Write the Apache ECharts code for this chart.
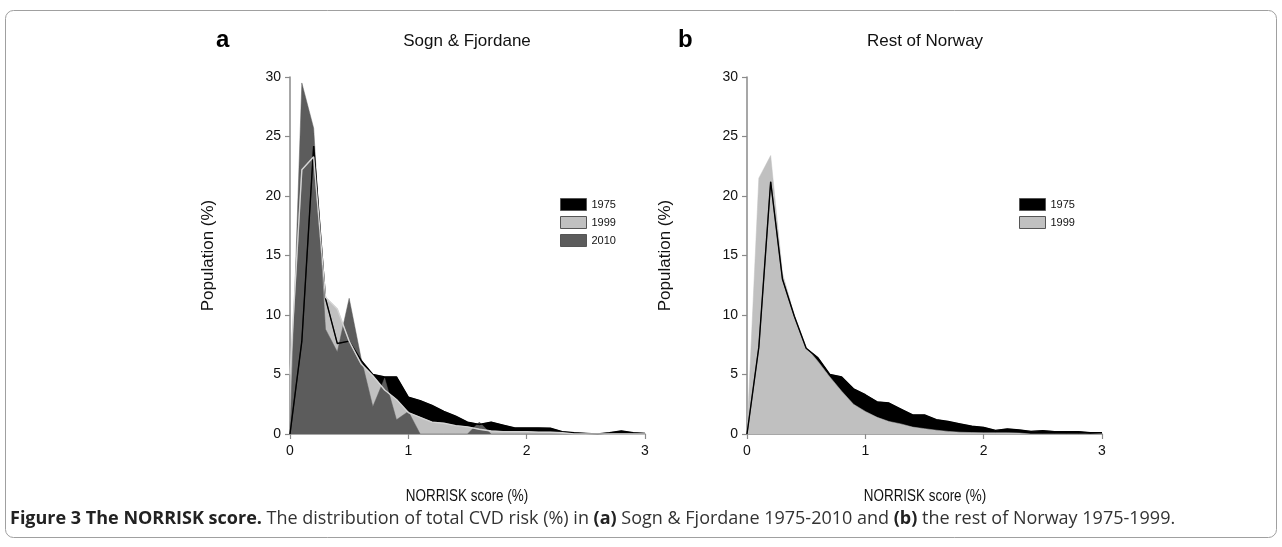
<!DOCTYPE html>
<html>
<head>
<meta charset="utf-8">
<script src="https://cdn.jsdelivr.net/npm/echarts@6/dist/echarts.min.js"></script>
<style>
  html, body { margin: 0; padding: 0; background: #fff; }
  #chart { width: 1282px; height: 547px; }
</style>
</head>
<body>
<div id="chart"></div>
<script>
// NORRISK score bins (%)
const scoreBins = [0, 0.1, 0.2, 0.3, 0.4, 0.5, 0.6, 0.7, 0.8, 0.9, 1.0,
  1.1, 1.2, 1.3, 1.4, 1.5, 1.6, 1.7, 1.8, 1.9, 2.0,
  2.1, 2.2, 2.3, 2.4, 2.5, 2.6, 2.7, 2.8, 2.9, 3.0]

// panel a - Sogn & Fjordane, population (%)
const sogn1975 = [0, 7.8, 24.2, 11.4, 7.6, 7.8, 6.2, 5.0, 4.8, 4.8, 3.1,
  2.8, 2.4, 1.9, 1.5, 1.0, 0.8, 1.0, 0.75, 0.5, 0.5,
  0.5, 0.48, 0.2, 0.1, 0.05, 0, 0.1, 0.25, 0.1, 0.05]
const sogn1999 = [5, 22.2, 23.3, 11.5, 10.5, 7.8, 5.9, 4.9, 3.7, 2.9, 1.8,
  1.4, 1.0, 0.9, 0.7, 0.6, 0.4, 0.25, 0.2, 0.2, 0.2,
  0.15, 0.15, 0.1, 0, 0, 0, 0, 0, 0, 0]
const sogn2010 = [0, 29.5, 25.7, 8.8, 6.9, 11.4, 6.4, 2.3, 4.7, 1.2, 1.9,
  0, 0, 0, 0, 0, 1.0, 0, 0, 0, 0,
  0, 0, 0, 0, 0, 0, 0, 0, 0, 0]

// panel b - rest of Norway, population (%)
const norway1975 = [0, 7.3, 21.2, 13.0, 9.9, 7.2, 6.4, 5.0, 4.8, 3.8, 3.3,
  2.7, 2.6, 2.1, 1.6, 1.6, 1.2, 1.05, 0.85, 0.65, 0.56,
  0.3, 0.42, 0.34, 0.22, 0.28, 0.2, 0.2, 0.2, 0.1, 0.1]
const norway1999 = [0, 21.5, 23.4, 13.5, 10.0, 7.3, 6.1, 4.8, 3.6, 2.5, 1.9,
  1.4, 1.05, 0.85, 0.58, 0.45, 0.32, 0.22, 0.15, 0.12, 0.1,
  0.1, 0.1, 0.08, 0, 0, 0, 0, 0, 0, 0]

const xTicks = [0, 1, 2, 3]

const colors = { '1975': '#000000', '1999': '#c0c0c0', '2010': '#5c5c5c' }
const lineColors = { '1975': '#000000', '1999': '#d4d4d4' }

const tickFont = 'Liberation Sans, Arial, sans-serif'

function pairs(vals) {
  return scoreBins.map((x, i) => [x, vals[i]])
}

function areaSeries(name, vals, idx) {
  return {
    name: name,
    type: 'line',
    xAxisIndex: idx,
    yAxisIndex: idx,
    data: pairs(vals),
    showSymbol: false,
    symbol: 'none',
    z: 2,
    itemStyle: { color: colors[name] },
    lineStyle: { color: colors[name], width: 0.5 },
    areaStyle: { color: colors[name], opacity: 1 },
    emphasis: { disabled: true },
  }
}

function lineSeries(name, vals, idx) {
  return {
    name: name + ' line',
    type: 'line',
    xAxisIndex: idx,
    yAxisIndex: idx,
    data: pairs(vals),
    showSymbol: false,
    symbol: 'none',
    z: 3,
    lineStyle: { color: lineColors[name], width: 1.4 },
    emphasis: { disabled: true },
  }
}

function xAxis(idx) {
  return {
    type: 'value',
    gridIndex: idx,
    min: 0,
    max: 3,
    interval: 1,
    axisLine: { show: true, onZero: false, lineStyle: { color: '#8a8a8a', width: 1.5 } },
    axisTick: { show: true, length: 5, lineStyle: { color: '#8a8a8a', width: 1.2 } },
    axisLabel: {
      margin: 10, fontFamily: tickFont, fontSize: 14, color: '#111',
      customValues: xTicks,
    },
    splitLine: { show: false },
  }
}

function yAxis(idx) {
  return {
    type: 'value',
    gridIndex: idx,
    min: 0,
    max: 30,
    interval: 5,
    name: 'Population (%)',
    nameLocation: 'middle',
    nameGap: 73,
    nameTextStyle: { fontFamily: tickFont, fontSize: 17, color: '#111' },
    axisLine: { show: true, lineStyle: { color: '#8a8a8a', width: 1.5 } },
    axisTick: { show: true, length: 5, lineStyle: { color: '#8a8a8a', width: 1.2 } },
    axisLabel: { margin: 9, fontFamily: tickFont, fontSize: 14, color: '#111' },
    splitLine: { show: false },
  }
}

// x axis title, drawn a bit narrow like the original figure
function xTitle(cx) {
  return {
    type: 'text', x: cx, y: 497, scaleX: 0.84, originX: 0, originY: 0,
    style: { text: 'NORRISK score (%)', font: '16px ' + tickFont, fill: '#111', align: 'center', verticalAlign: 'middle' },
  }
}

const chart = echarts.init(document.getElementById('chart'))

const option = {
  backgroundColor: '#ffffff',
  animation: false,
  grid: [
    { left: 290, top: 77, width: 355, height: 357 },
    { left: 747, top: 77, width: 355, height: 357 },
  ],
  xAxis: [xAxis(0), xAxis(1)],
  yAxis: [yAxis(0), yAxis(1)],
  legend: [
    {
      data: ['1975', '1999', '2010'],
      orient: 'vertical',
      left: 555, top: 193,
      itemWidth: 26, itemHeight: 12, itemGap: 5,
      icon: 'rect',
      itemStyle: { borderColor: '#555', borderWidth: 1 },
      textStyle: { fontFamily: tickFont, fontSize: 11, color: '#111' },
      selectedMode: false,
    },
    {
      data: ['1975 ', '1999 '],
      orient: 'vertical',
      left: 1014, top: 193,
      itemWidth: 26, itemHeight: 12, itemGap: 5,
      icon: 'rect',
      itemStyle: { borderColor: '#555', borderWidth: 1 },
      textStyle: { fontFamily: tickFont, fontSize: 11, color: '#111' },
      selectedMode: false,
    },
  ],
  series: [
    areaSeries('1975', sogn1975, 0),
    areaSeries('1999', sogn1999, 0),
    areaSeries('2010', sogn2010, 0),
    lineSeries('1975', sogn1975, 0),
    lineSeries('1999', sogn1999, 0),
    Object.assign(areaSeries('1975', norway1975, 1), { name: '1975 ' }),
    Object.assign(areaSeries('1999', norway1999, 1), { name: '1999 ' }),
    lineSeries('1975', norway1975, 1),
  ],
  graphic: [
    {
      type: 'rect', silent: true,
      shape: { x: 5.5, y: 10.5, width: 1271, height: 527, r: 8 },
      style: { fill: 'none', stroke: '#a0a0a0', lineWidth: 1 },
    },
    {
      type: 'text', left: 216, top: 28,
      style: { text: 'a', font: 'bold 24px ' + tickFont, fill: '#000' },
    },
    {
      type: 'text', left: 678, top: 28,
      style: { text: 'b', font: 'bold 24px ' + tickFont, fill: '#000' },
    },
    {
      type: 'text', x: 467, y: 41,
      style: { text: 'Sogn & Fjordane', font: '17px ' + tickFont, fill: '#111', align: 'center', verticalAlign: 'middle' },
    },
    {
      type: 'text', x: 925, y: 41,
      style: { text: 'Rest of Norway', font: '17px ' + tickFont, fill: '#111', align: 'center', verticalAlign: 'middle' },
    },
    xTitle(467),
    xTitle(925),
    {
      type: 'text', x: 10, y: 519,
      style: {
        text: '{b|Figure 3 The NORRISK score.} The distribution of total CVD risk (%) in {b|(a)} Sogn & Fjordane 1975-2010 and {b|(b)} the rest of Norway 1975-1999.',
        verticalAlign: 'middle',
        font: '18px "Open Sans", sans-serif',
        fill: '#333',
        rich: {
          b: { fontFamily: 'Open Sans', fontSize: 18, fontWeight: 'bold', fill: '#222' },
        },
      },
    },
  ],
}

chart.setOption(option)
</script>
</body>
</html>
